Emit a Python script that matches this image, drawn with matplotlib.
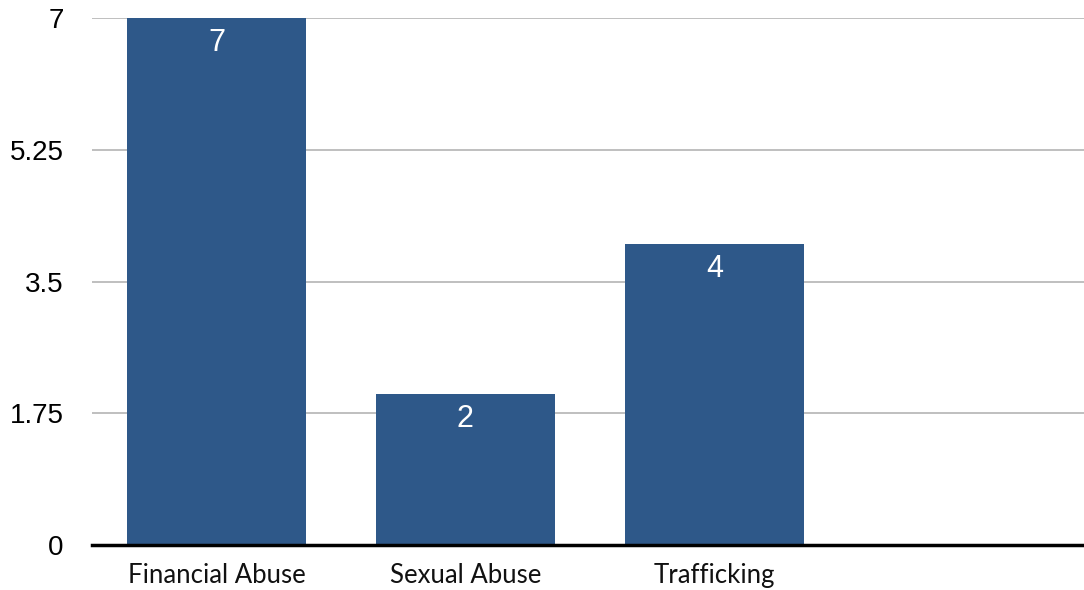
import numpy as np
import matplotlib.pyplot as plt

# カテゴリと値
categories = ['Financial Abuse', 'Sexual Abuse', 'Trafficking', '']
values     = [7, 2, 4, 0]
value_text = ['7', '2', '4', '']
y_ticks    = [0, 1.75, 3.5, 5.25, 7]
y_labels   = ['0', '1.75', '3.5', '5.25', '7']

BAR_COLOR = '#2e5889'

fig = plt.figure(figsize=(10.84, 5.90), dpi=100)
ax = fig.add_axes([92 / 1084, 45 / 590, (1084 - 92) / 1084, 527 / 590])

x = np.arange(len(categories))
bars = ax.bar(x[:3], values[:3], width=0.72, color=BAR_COLOR, zorder=3)

# バー内の数値
for xi, v, t in zip(x[:3], values[:3], value_text[:3]):
    ax.annotate(t, (xi, v), xytext=(0, -7), textcoords='offset points',
                ha='center', va='top', color='white', fontsize=22,
                family='Liberation Sans', zorder=4)

ax.set_xlim(-0.5, 3.485)
ax.set_ylim(0, 7)
ax.set_yticks(y_ticks)
ax.set_yticklabels(y_labels, family='Liberation Sans', fontsize=20)
ax.set_xticks(x)
ax.set_xticklabels(categories, family='Lato', fontsize=18.5, color='#111111')

ax.tick_params(axis='y', length=0, pad=20.5)
ax.tick_params(axis='x', length=0, pad=13)

ax.grid(axis='y', color='#b4b4b4', linewidth=1.2, zorder=0)
for s in ['top', 'right', 'left']:
    ax.spines[s].set_visible(False)
ax.spines['bottom'].set_linewidth(2.5)
ax.spines['bottom'].set_zorder(5)

fig.savefig('out.png', dpi=100)
